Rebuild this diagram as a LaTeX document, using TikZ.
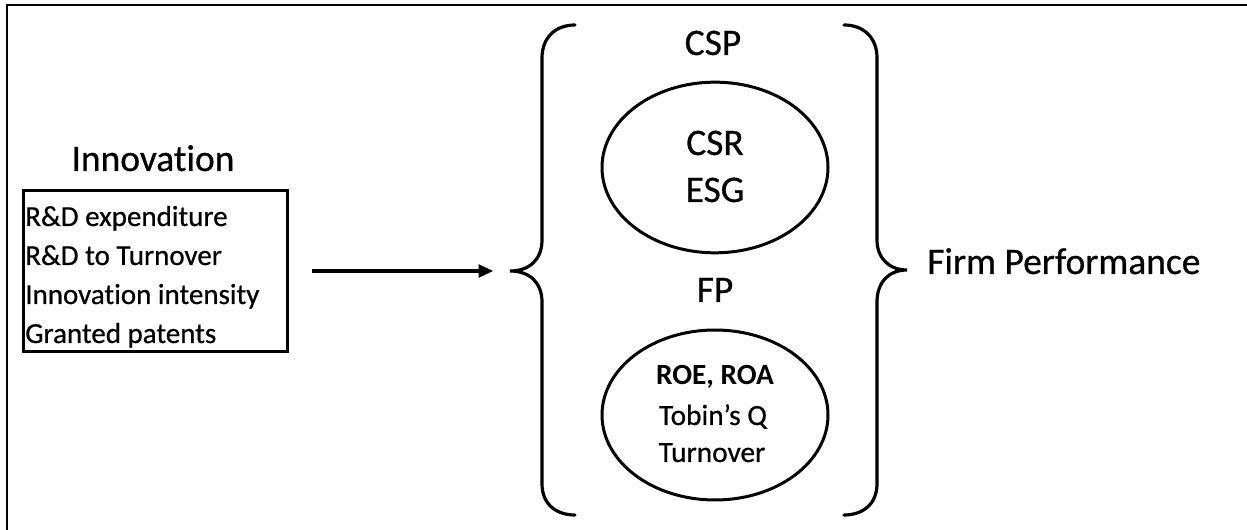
\documentclass[tikz,border=0pt]{standalone}
\usepackage{fontspec}
\setmainfont{Carlito}[Ligatures=NoCommon, UprightFeatures={FakeBold=0.6}]
\usetikzlibrary{arrows.meta,shapes.geometric}
\tikzset{
  big/.style={font=\fontsize{28.1}{33}\selectfont, inner sep=0pt},
  small/.style={font=\fontsize{21.75}{26}\selectfont, inner sep=0pt},
  mid/.style={font=\fontsize{22}{26}\selectfont, inner sep=0pt},
  thick line/.style={line width=2.25pt},
  oval/.style={draw, ellipse, line width=2.25pt, inner sep=0pt, minimum width=169.5pt, minimum height=128pt},
  arr/.style={line width=2.4pt, -{Triangle[length=11pt,width=9.5pt]}},
  brace line/.style={line width=2.4pt, line cap=round}
}
\begin{document}
\begin{tikzpicture}[x=0.75pt,y=-0.75pt]
\useasboundingbox (0,0) rectangle (1247,530);
% frame (top and left edges)
\draw[line width=1.5pt] (7,530) -- (7,5) -- (1247,5);

% Innovation
\node[big, anchor=base] (innov) at (153,171) {Innovation};
\node[draw, thick line, minimum width=198pt, minimum height=120.75pt, inner sep=0pt] (box) at (155,271) {};
\node[small, anchor=base west] (t1) at (25,226) {R\&D expenditure};
\node[small, anchor=base west] (t2) at (25,265) {R\&D to Turnover};
\node[small, anchor=base west] (t3) at (25,304) {Innovation intensity};
\node[small, anchor=base west] (t4) at (25,343) {Granted patents};

% braces
\coordinate (lbtip) at (510,271);
\coordinate (rbtip) at (907,270);
\draw[brace line] (575,25) .. controls (555,25) and (542,38) .. (542,58) -- (542,240)
  .. controls (542,259) and (530,271) .. (lbtip)
  .. controls (530,271) and (542,283) .. (542,302) -- (542,484)
  .. controls (542,503) and (555,515) .. (575,515);
\draw[brace line] (844,25) .. controls (864,25) and (877,38) .. (877,58) -- (877,240)
  .. controls (877,258) and (889,270) .. (rbtip)
  .. controls (889,270) and (877,282) .. (877,302) -- (877,484)
  .. controls (877,503) and (864,515) .. (844,515);

% arrow
\draw[arr, shorten <=17.25pt, shorten >=12.5pt] (box.east) -- (lbtip);

% CSP
\node[big, anchor=base] (csp) at (713,55) {CSP};
\node[oval] (e1) at (715,167.5) {};
\node[big, anchor=base] (csr) at (715,155) {CSR};
\node[big, anchor=base] (esg) at (715,202) {ESG};

% FP
\node[big, anchor=base] (fp) at (715,302) {FP};
\node[oval, minimum height=127.5pt] (e2) at (715,415) {};
\node[mid, anchor=base] (roe) at (715,385) {\bfseries ROE, ROA};
\node[mid, anchor=base] (tobin) at (713,425) {Tobin’s Q};
\node[mid, anchor=base] (turn) at (712,462) {Turnover};

% Firm Performance
\node[big, anchor=base west] (firm) at (927,274) {Firm Performance};
\end{tikzpicture}
\end{document}
